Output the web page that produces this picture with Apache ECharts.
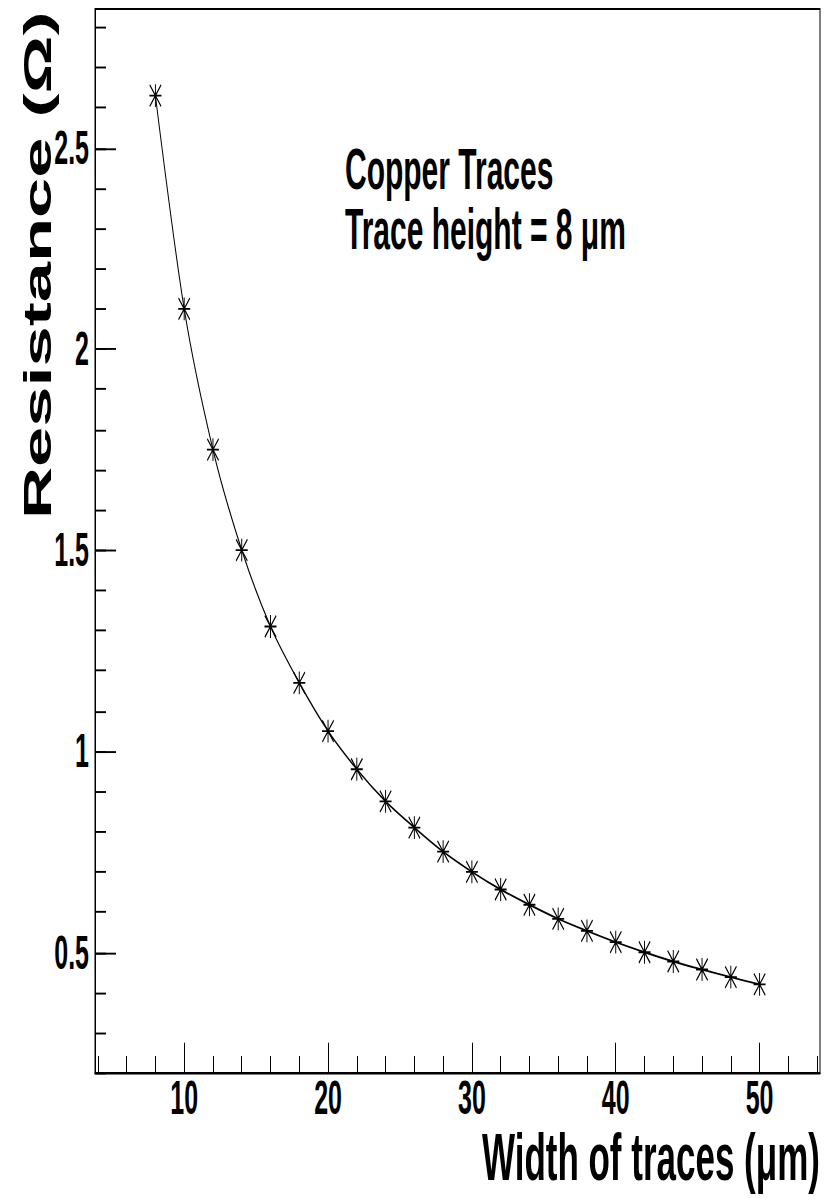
<!DOCTYPE html>
<html>
<head>
<meta charset="utf-8">
<script src="https://cdn.jsdelivr.net/npm/echarts@6/dist/echarts.min.js"></script>
<style>
html,body{margin:0;padding:0;background:#fff;}
#wrap{width:832px;height:1198px;overflow:hidden;position:relative;background:#fff;}
#main{width:832px;height:630px;transform:scaleY(1.9016);transform-origin:0 0;}
</style>
</head>
<body>
<div id="wrap"><div id="main"></div></div>
<script>
// ---- data ----
const widths = [8,10,12,14,16,18,20,22,24,26,28,30,32,34,36,38,40,42,44,46,48,50];
const resistance = [2.63,2.10,1.75,1.50,1.31,1.17,1.05,0.955,0.875,0.81,0.75,0.70,0.656,0.618,0.583,0.553,0.525,0.50,0.477,0.457,0.438,0.42];
const xMajorTicks = [10,20,30,40,50];
const xMinorTicks = [4,6,8,10,12,14,16,18,20,22,24,26,28,30,32,34,36,38,40,42,44,46,48,50,52,54];
const yMajorTicks = [0.5,1,1.5,2,2.5];
const yMinorTicks = [0.2,0.3,0.4,0.5,0.6,0.7,0.8,0.9,1.0,1.1,1.2,1.3,1.4,1.5,1.6,1.7,1.8,1.9,2.0,2.1,2.2,2.3,2.4,2.5,2.6,2.7,2.8];
const xRange = [3.8, 54.2];
const yRange = [0.1995, 2.8455];
const xTitle = 'Width of traces (\u03bcm)';
const yTitle = 'Resistance (\u03a9)';
const noteLines = ['Copper Traces', 'Trace height = 8 \u03bcm'];

const FONT = '"Liberation Sans", Arial, Helvetica, sans-serif';
const starPath = 'path://M9.2 0h1.6v20h-1.6z M0 9.2h20v1.6h-20z M1.13 0L20 18.87L18.87 20L0 1.13z M18.87 0L20 1.13L1.13 20L0 18.87z';

const chart = echarts.init(document.getElementById('main'), null, {renderer: 'svg'});
const lineStyleBlack = {color: '#000', width: 1};

chart.setOption({
  animation: false,
  backgroundColor: '#fff',
  grid: {left: 95, right: 12, top: 4.73, bottom: 65.7, show: true, borderColor: '#000', borderWidth: 1, backgroundColor: 'transparent'},
  xAxis: [
    {type: 'value', position: 'bottom', min: xRange[0], max: xRange[1],
     axisLine: {show: true, lineStyle: lineStyleBlack},
     axisTick: {show: true, inside: true, length: 16, lineStyle: lineStyleBlack, customValues: xMajorTicks},
     axisLabel: {show: true, customValues: xMajorTicks, margin: 4, lineHeight: 18, color: '#000', fontSize: 25, fontWeight: 'bold', fontFamily: FONT},
     splitLine: {show: false}},
    {type: 'value', position: 'bottom', offset: 0, min: xRange[0], max: xRange[1],
     axisLine: {show: false},
     axisTick: {show: true, inside: true, length: 9, lineStyle: lineStyleBlack, customValues: xMinorTicks},
     axisLabel: {show: false},
     splitLine: {show: false}}
  ],
  yAxis: [
    {type: 'value', position: 'left', min: yRange[0], max: yRange[1],
     axisLine: {show: true, lineStyle: lineStyleBlack},
     axisTick: {show: true, inside: true, length: 21, lineStyle: lineStyleBlack, customValues: yMajorTicks},
     axisLabel: {show: true, customValues: yMajorTicks, margin: 6, color: '#000', fontSize: 25, fontWeight: 'bold', fontFamily: FONT},
     splitLine: {show: false}},
    {type: 'value', position: 'left', offset: 0, min: yRange[0], max: yRange[1],
     axisLine: {show: false},
     axisTick: {show: true, inside: true, length: 11, lineStyle: lineStyleBlack, customValues: yMinorTicks},
     axisLabel: {show: false},
     splitLine: {show: false}}
  ],
  series: [{
    type: 'line',
    xAxisIndex: 0, yAxisIndex: 0,
    data: widths.map((w, i) => [w, resistance[i]]),
    smooth: 0.3,
    symbol: starPath,
    symbolSize: 12,
    showAllSymbol: true,
    lineStyle: {color: '#000', width: 1},
    itemStyle: {color: '#000', borderWidth: 0},
    z: 5
  }],
  graphic: [
    {type: 'text', x: 19, y: 6, rotation: Math.PI / 2,
     style: {text: yTitle, font: 'bold 38px ' + FONT, fill: '#000', align: 'right', verticalAlign: 'top'}},
    {type: 'text', right: 12, top: 591,
     style: {text: xTitle, font: 'bold 35px ' + FONT, lineHeight: 30, fill: '#000'}},
    {type: 'text', x: 345, y: 73,
     style: {text: noteLines.join('\n'), font: 'bold 30px ' + FONT, lineHeight: 32, fill: '#000'}}
  ]
});
</script>
</body>
</html>
